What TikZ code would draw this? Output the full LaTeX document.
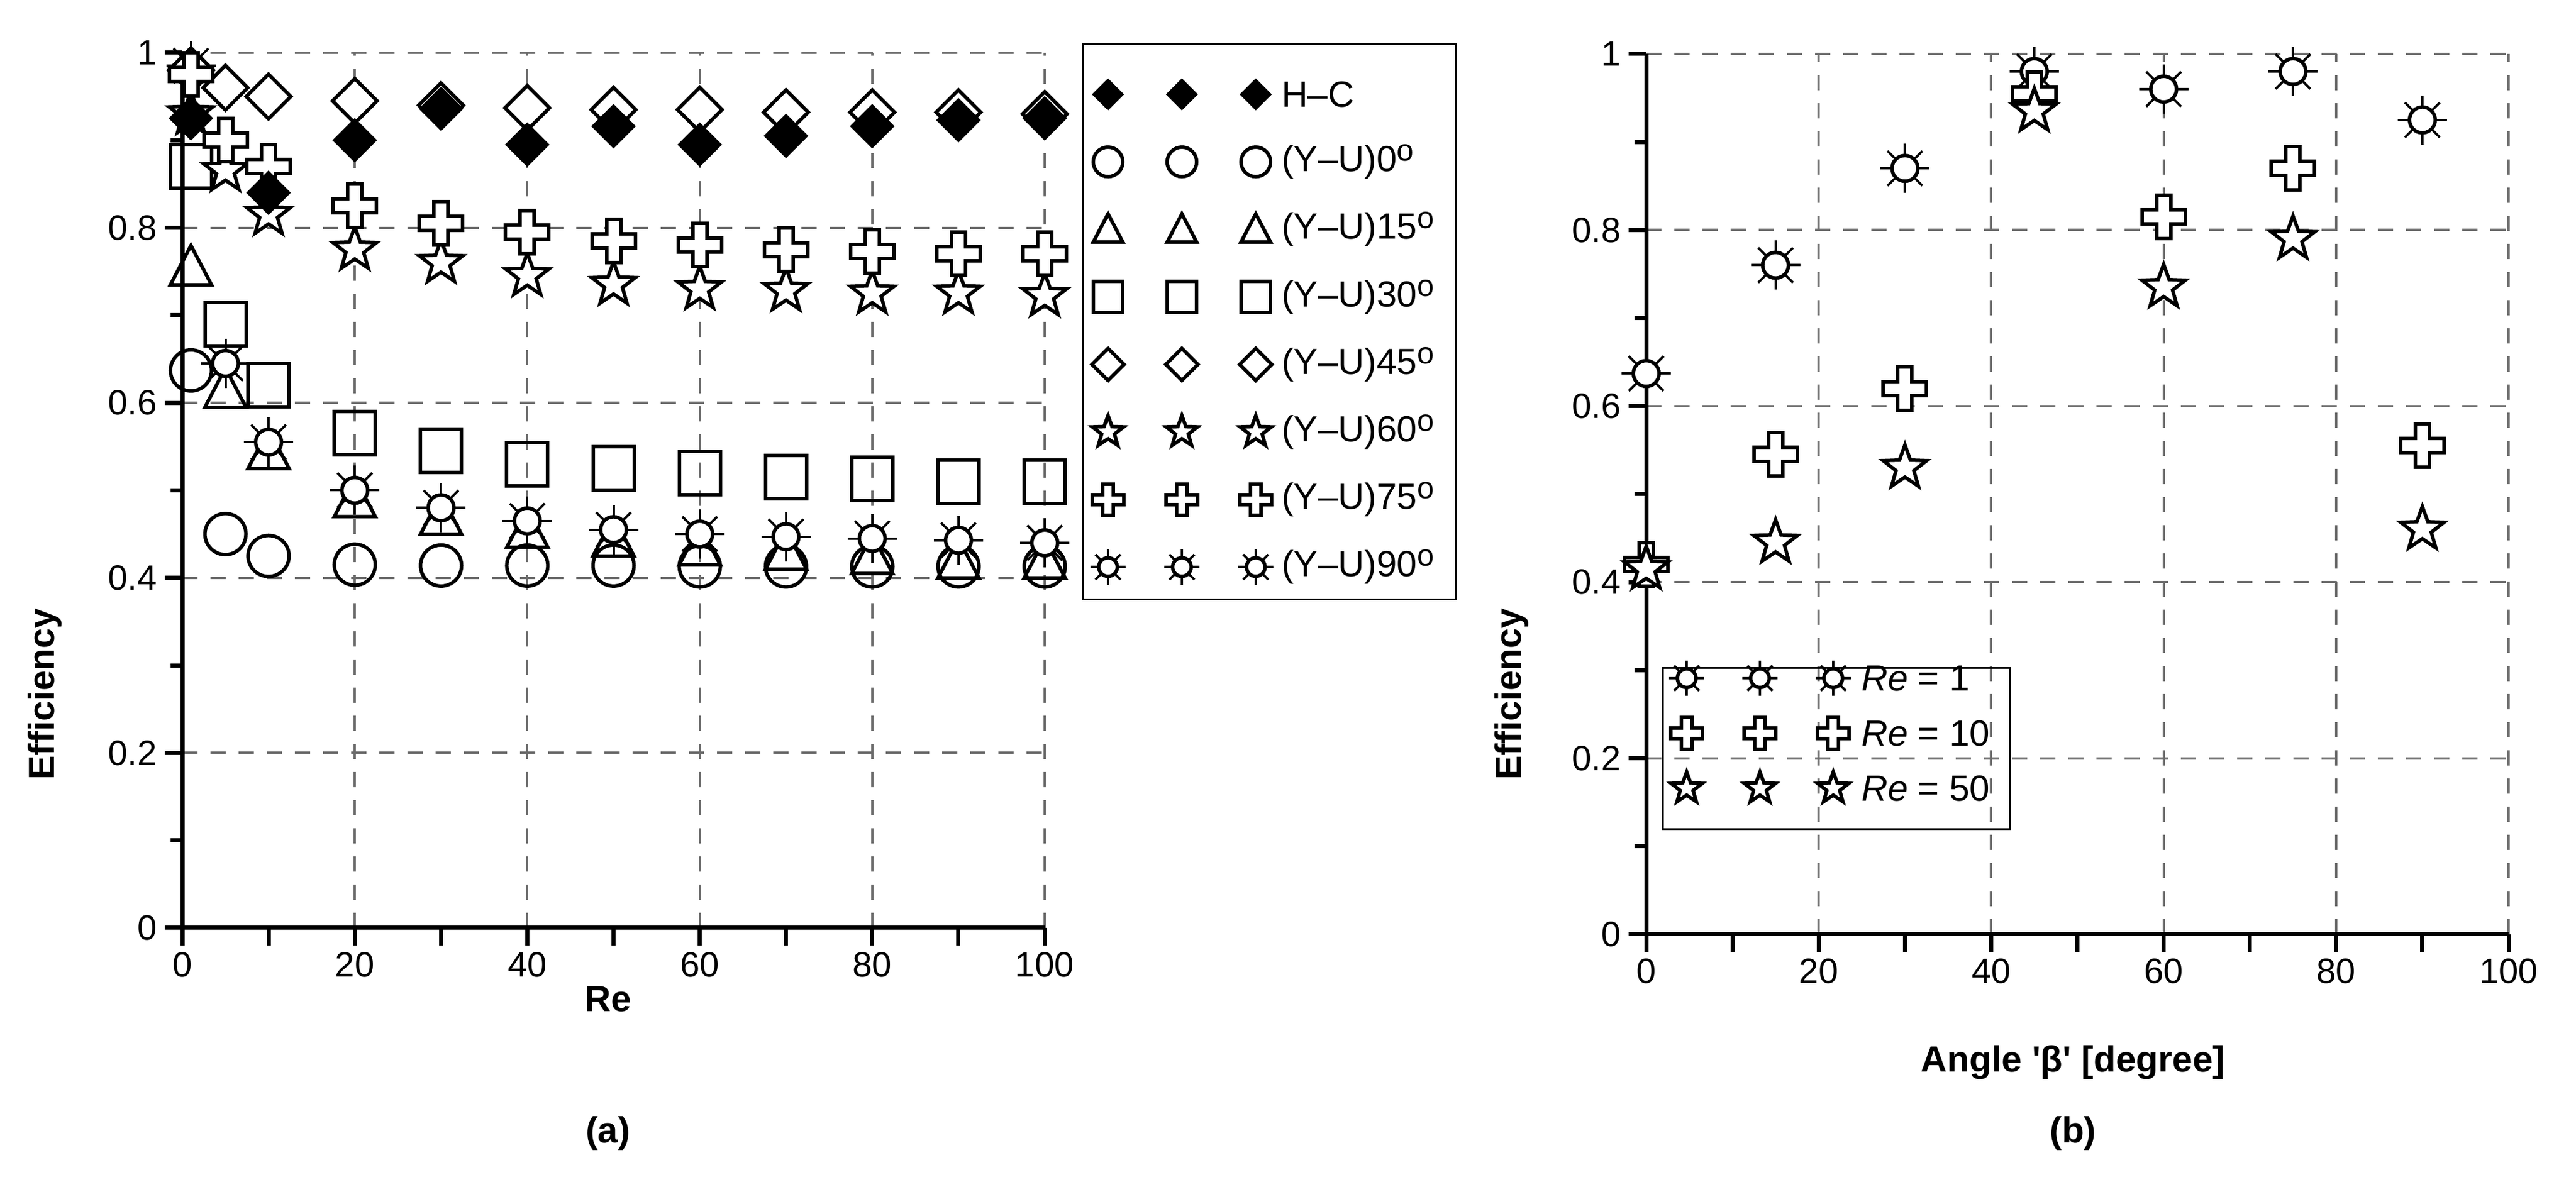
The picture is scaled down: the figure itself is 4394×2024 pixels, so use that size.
\documentclass[tikz,border=0pt]{standalone}
\usepackage{fontspec}
\setmainfont{Liberation Sans}
\newcommand{\dgo}{\raisebox{0.55ex}{\fontsize{52}{52}\selectfont o}}
\begin{document}
\begin{tikzpicture}[x=1pt,y=1pt,
  mk/.style={line width=6pt, draw=black, fill=white, line join=miter},
  grd/.style={gray!85!black, line width=4pt, dash pattern=on 26pt off 22pt},
  ax/.style={line width=7pt},
  tl/.style={font=\fontsize{60}{60}\selectfont},
  lbl/.style={font=\bfseries\fontsize{62}{62}\selectfont},
  lg/.style={font=\fontsize{62}{62}\selectfont, anchor=west, inner sep=0pt},
  pics/fd/.style={code={\fill[black] (0,-38pt)--(38pt,0)--(0,38pt)--(-38pt,0)--cycle;}},
  pics/oc/.style={code={\draw[mk,fill=none] (0,0) circle[radius=35pt];}},
  pics/tr/.style={code={\draw[mk,fill=none] (-35pt,-30pt)--(35pt,-30pt)--(0,37pt)--cycle;}},
  pics/sq/.style={code={\draw[mk,fill=none] (-35pt,-37pt) rectangle (35pt,37pt);}},
  pics/od/.style={code={\draw[mk,fill=white] (0,-38pt)--(38pt,0)--(0,38pt)--(-38pt,0)--cycle;}},
  pics/st/.style={code={\draw[mk,fill=white] (90:39pt)--(126:16pt)--(162:39pt)--(198:16pt)--(234:39pt)--(270:16pt)--(306:39pt)--(342:16pt)--(18:39pt)--(54:16pt)--cycle;}},
  pics/cr/.style={code={\draw[mk,fill=white] (-12pt,-37pt)--(12pt,-37pt)--(12pt,-12pt)--(37pt,-12pt)--(37pt,12pt)--(12pt,12pt)--(12pt,37pt)--(-12pt,37pt)--(-12pt,12pt)--(-37pt,12pt)--(-37pt,-12pt)--(-12pt,-12pt)--cycle;}},
  pics/sn/.style={code={\foreach \a in {0,45,...,315}{\draw[line width=4pt] (\a:22pt)--(\a:42pt);}
     \draw[mk,fill=white] (0,0) circle[radius=22pt];}},
]
\useasboundingbox (0,0) rectangle (4394,2024);
% ===== left panel =====
\begin{scope}[shift={(311,441)}, x=14.71pt, y=1493pt]
  \foreach \v in {0.2,0.4,...,1.0} \draw[grd] (0,\v)--(100,\v);
  \foreach \u in {20,40,...,100} \draw[grd] (\u,0)--(\u,1);
  \draw[ax] (0,1.0)--(0,0)--(100,0);
  \foreach \v in {0,0.2,...,1.0} {\draw[ax] (0,\v)--++(-30pt,0);}
  \foreach \v in {0.1,0.3,...,0.9} {\draw[ax] (0,\v)--++(-20pt,0);}
  \foreach \u in {0,10,...,100} {\draw[ax] (\u,0)--++(0,-30pt);}
  \foreach \v/\t in {0/0,0.2/0.2,0.4/0.4,0.6/0.6,0.8/0.8,1/1} \node[tl,anchor=east] (ly\t) at ([xshift=-40pt]0,\v) {\t};
  \foreach \u in {0,20,...,100} \node[tl,anchor=north] (lx\u) at ([yshift=-38pt]\u,0) {\u};
  \foreach \u/\v in {1/0.637,5/0.45,10/0.425,20/0.415,30/0.414,40/0.414,50/0.414,60/0.413,70/0.413,80/0.413,90/0.413,100/0.413} \pic at (\u,\v) {oc};
  \foreach \u/\v in {1/0.87,5/0.69,10/0.62,20/0.565,30/0.545,40/0.53,50/0.525,60/0.52,70/0.515,80/0.513,90/0.51,100/0.51} \pic at (\u,\v) {sq};
  \foreach \u/\v in {1/0.755,5/0.615,10/0.545,20/0.49,30/0.47,40/0.455,50/0.445,60/0.435,70/0.43,80/0.425,90/0.42,100/0.42} \pic at (\u,\v) {tr};
  \foreach \u/\v in {1/0.985,5/0.645,10/0.555,20/0.5,30/0.48,40/0.465,50/0.455,60/0.45,70/0.447,80/0.445,90/0.443,100/0.44} \pic at (\u,\v) {sn};
  \foreach \u/\v in {1/0.98,5/0.96,10/0.95,20/0.945,30/0.94,40/0.937,50/0.935,60/0.935,70/0.932,80/0.932,90/0.932,100/0.93} \pic at (\u,\v) {od};
  \foreach \u/\v in {1/0.93,5/0.865,10/0.815,20/0.775,30/0.76,40/0.745,50/0.735,60/0.73,70/0.728,80/0.725,90/0.725,100/0.722} \pic at (\u,\v) {st};
  \foreach \u/\v in {1/0.975,5/0.9,10/0.87,20/0.825,30/0.805,40/0.795,50/0.785,60/0.78,70/0.775,80/0.773,90/0.77,100/0.77} \pic at (\u,\v) {cr};
  \foreach \u/\v in {1/0.925,10/0.84,20/0.90,30/0.936,40/0.895,50/0.916,60/0.895,70/0.905,80/0.916,90/0.923,100/0.925} \pic at (\u,\v) {fd};
\end{scope}
\node[lbl,rotate=90] (effa) at (76,840) {Efficiency};
\node[lbl] (rea) at (1037,320) {Re};
\node[lbl] (capa) at (1037,91) {(a)};
% left legend
\draw[line width=3pt, fill=white] (1847,2024-76) rectangle (2483,2024-1023);
\foreach \t/\n [count=\i] in {fd/{H–C},oc/{(Y–U)0\dgo},tr/{(Y–U)15\dgo},sq/{(Y–U)30\dgo},od/{(Y–U)45\dgo},st/{(Y–U)60\dgo},cr/{(Y–U)75\dgo},sn/{(Y–U)90\dgo}}{
  \pgfmathsetmacro\yy{2024-161-115.2*(\i-1)}
  \foreach \xx in {1890,2016,2142} \pic[scale=0.72] at (\xx,\yy) {\t};
  \node[lg] (lga\i) at (2186,\yy) {\n};
}
% ===== right panel =====
\begin{scope}[shift={(2808,430)}, x=14.71pt, y=1502pt]
  \foreach \v in {0.2,0.4,...,1.0} \draw[grd] (0,\v)--(100,\v);
  \foreach \u in {20,40,...,100} \draw[grd] (\u,0)--(\u,1);
  \draw[ax] (0,1.0)--(0,0)--(100,0);
  \foreach \v in {0,0.2,...,1.0} {\draw[ax] (0,\v)--++(-30pt,0);}
  \foreach \v in {0.1,0.3,...,0.9} {\draw[ax] (0,\v)--++(-20pt,0);}
  \foreach \u in {0,10,...,100} {\draw[ax] (\u,0)--++(0,-30pt);}
  \foreach \v/\t in {0/0,0.2/0.2,0.4/0.4,0.6/0.6,0.8/0.8,1/1} \node[tl,anchor=east] (ry\t) at ([xshift=-40pt]0,\v) {\t};
  \foreach \u in {0,20,...,100} \node[tl,anchor=north] (rx\u) at ([yshift=-38pt]\u,0) {\u};
  \foreach \u/\v in {0/0.637,15/0.76,30/0.87,45/0.98,60/0.96,75/0.98,90/0.925} \pic at (\u,\v) {sn};
  \foreach \u/\v in {0/0.42,15/0.545,30/0.62,45/0.955,60/0.815,75/0.87,90/0.555} \pic at (\u,\v) {cr};
  \foreach \u/\v in {0/0.415,15/0.445,30/0.53,45/0.935,60/0.735,75/0.79,90/0.46} \pic at (\u,\v) {st};
\end{scope}
\node[lbl,rotate=90] (effb) at (2578,840) {Efficiency};
\node[lbl] (angb) at (3536,211) {Angle \textquotesingle β\textquotesingle\ [degree]};
\node[lbl] (capb) at (3536,91) {(b)};
\draw[line width=3pt] (2836,2024-1140) rectangle (3428,2024-1415);
\foreach \t/\n [count=\i] in {sn/1,cr/10,st/50}{
  \pgfmathsetmacro\yy{2024-1157-94*(\i-1)}
  \foreach \xx in {2877,3002,3127} \pic[scale=0.72] at (\xx,\yy) {\t};
  \node[lg] (lgb\i) at (3175,\yy) {\textit{Re} = \n};
}
\end{tikzpicture}
\end{document}
